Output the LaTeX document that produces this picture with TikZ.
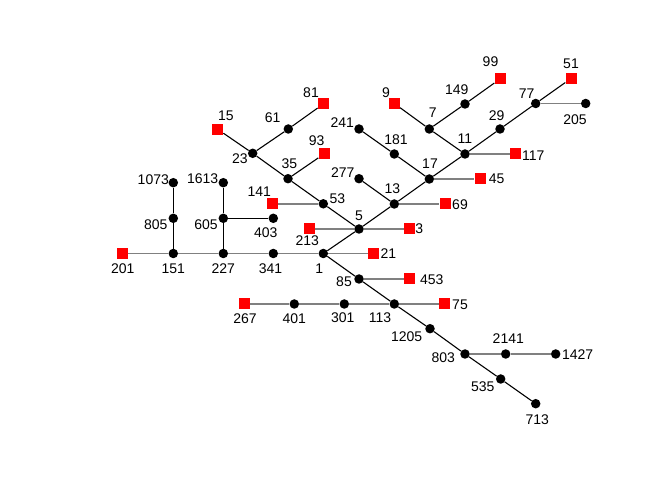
\documentclass[tikz,border=0pt]{standalone}
\usepackage{fontspec}
\setmainfont{Liberation Sans}
\begin{document}
\begin{tikzpicture}[x=1pt,y=-1pt,
 dot/.style={circle,fill=black,inner sep=0pt,minimum size=9.5pt},
 sq/.style={rectangle,fill=red,inner sep=0pt,minimum size=11pt},
 lab/.style={inner sep=0pt,font=\fontsize{14}{15}\selectfont},
 bl/.style={draw=black,line width=1.1pt},
 gr/.style={draw=black!50,line width=1.9pt}]
\useasboundingbox[fill=white] (0,0) rectangle (654,497);
% nodes
\node[sq]  (n201) at (122.7,253.5) {};
\node[dot] (n151) at (173.3,253.5) {};
\node[dot] (n227) at (223.3,253.5) {};
\node[dot] (n341) at (273.3,253.5) {};
\node[dot] (n1) at (323.3,253.5) {};
\node[dot] (n805) at (173.3,218.3) {};
\node[dot] (n1073) at (173.3,182.7) {};
\node[dot] (n605) at (223.3,218.3) {};
\node[dot] (n1613) at (223.3,182.7) {};
\node[dot] (n403) at (273.3,218.3) {};
\node[sq]  (n141) at (272.7,203.8) {};
\node[dot] (n53) at (323.3,203.8) {};
\node[sq]  (n213) at (309,229) {};
\node[sq]  (n267) at (244,304) {};
\node[dot] (n401) at (294.3,304) {};
\node[dot] (n301) at (344.3,304) {};
\node[dot] (n113) at (394.3,304) {};
\node[sq]  (n75) at (444.3,304) {};
\node[sq]  (n15) at (217.7,129.3) {};
\node[dot] (n23) at (252.7,153.3) {};
\node[dot] (n61) at (288.3,129) {};
\node[sq]  (n81) at (323.3,104) {};
\node[sq]  (n93) at (324,154) {};
\node[dot] (n35) at (288,178.7) {};
\node[dot] (n5) at (359,229) {};
\node[sq]  (n3) at (409.3,229) {};
\node[sq]  (n21) at (373.3,253.5) {};
\node[dot] (n13) at (394.3,204) {};
\node[sq]  (n69) at (445,204) {};
\node[dot] (n277) at (359,178.7) {};
\node[dot] (n17) at (429.3,179) {};
\node[sq]  (n45) at (480,179) {};
\node[dot] (n181) at (394.3,154) {};
\node[dot] (n241) at (359,129) {};
\node[dot] (n11) at (465,154) {};
\node[sq]  (n117) at (515.7,154) {};
\node[dot] (n7) at (429.3,129) {};
\node[sq]  (n9) at (394.3,103.5) {};
\node[dot] (n149) at (465,104) {};
\node[sq]  (n99) at (500,79) {};
\node[dot] (n29) at (500,129) {};
\node[dot] (n77) at (535.7,103.5) {};
\node[sq]  (n51) at (571,78.5) {};
\node[dot] (n205) at (585.7,103.5) {};
\node[dot] (n85) at (359,279) {};
\node[sq]  (n453) at (409.3,279) {};
\node[dot] (n1205) at (430,328.7) {};
\node[dot] (n803) at (465,354) {};
\node[dot] (n2141) at (505.7,354) {};
\node[dot] (n1427) at (555.7,354) {};
\node[dot] (n535) at (500.7,379) {};
\node[dot] (n713) at (535.7,403.7) {};
% gray edges
\draw[gr] (n201) -- (n151) -- (n227) -- (n341) -- (n1);
\draw[gr] (n1) -- (n21);
\draw[gr] (n141) -- (n53);
\draw[gr] (n213) -- (n5) -- (n3);
\draw[gr] (n13) -- (n69);
\draw[gr] (n17) -- (n45);
\draw[gr] (n11) -- (n117);
\draw[gr] (n77) -- (n205);
\draw[gr] (n85) -- (n453);
\draw[gr] (n267) -- (n401) -- (n301) -- (n113) -- (n75);
\draw[gr] (n803) -- (n2141) -- (n1427);
% black edges
\draw[bl] (n15) -- (n23) -- (n35) -- (n53) -- (n5) -- (n13) -- (n17) -- (n11) -- (n29) -- (n77) -- (n51);
\draw[bl] (n23) -- (n61) -- (n81);
\draw[bl] (n35) -- (n93);
\draw[bl] (n13) -- (n277);
\draw[bl] (n17) -- (n181) -- (n241);
\draw[bl] (n11) -- (n7) -- (n9);
\draw[bl] (n7) -- (n149) -- (n99);
\draw[bl] (n5) -- (n1) -- (n85) -- (n113) -- (n1205) -- (n803) -- (n535) -- (n713);
\draw[bl] (n151) -- (n805) -- (n1073);
\draw[bl] (n227) -- (n605) -- (n1613);
\draw[bl] (n605) -- (n403);
% labels
\node[lab] (l201) at (122.7,268.3) {201};
\node[lab] (l151) at (173.3,268.3) {151};
\node[lab] (l227) at (223.3,268.3) {227};
\node[lab] (l341) at (270.5,268.3) {341};
\node[lab] (l1) at (319.3,268.3) {1};
\node[lab] (l805) at (155.7,225) {805};
\node[lab] (l1073) at (153.3,180) {1073};
\node[lab] (l1613) at (202.7,179) {1613};
\node[lab] (l605) at (206,225) {605};
\node[lab] (l403) at (265.7,232.7) {403};
\node[lab] (l141) at (259.3,191.7) {141};
\node[lab] (l53) at (337.3,198.3) {53};
\node[lab] (l213) at (307.3,240.7) {213};
\node[lab] (l267) at (245,319) {267};
\node[lab] (l401) at (294.3,319) {401};
\node[lab] (l301) at (342.7,317.3) {301};
\node[lab] (l113) at (380,317.3) {113};
\node[lab] (l75) at (460,305) {75};
\node[lab] (l35) at (289.3,163.3) {35};
\node[lab] (l15) at (226,116) {15};
\node[lab] (l23) at (240,159) {23};
\node[lab] (l61) at (272.7,117.7) {61};
\node[lab] (l81) at (311,92.7) {81};
\node[lab] (l93) at (316.7,141) {93};
\node[lab] (l5) at (359,216) {5};
\node[lab] (l241) at (342.3,122.7) {241};
\node[lab] (l277) at (342.7,172.7) {277};
\node[lab] (l13) at (392.3,188.3) {13};
\node[lab] (l181) at (396,140) {181};
\node[lab] (l17) at (430,164) {17};
\node[lab] (l11) at (465,139) {11};
\node[lab] (l29) at (496.7,116) {29};
\node[lab] (l77) at (526.7,93.3) {77};
\node[lab] (l149) at (456.7,89.3) {149};
\node[lab] (l7) at (432.7,112.3) {7};
\node[lab] (l9) at (386,92.7) {9};
\node[lab] (l99) at (490.5,62) {99};
\node[lab] (l51) at (571,63.5) {51};
\node[lab] (l205) at (575,119.3) {205};
\node[lab] (l117) at (533.3,156) {117};
\node[lab] (l45) at (496.7,179) {45};
\node[lab] (l69) at (460,205) {69};
\node[lab] (l3) at (419.3,228.3) {3};
\node[lab] (l21) at (388.3,253.7) {21};
\node[lab] (l453) at (431.7,280) {453};
\node[lab] (l85) at (344,281.7) {85};
\node[lab] (l1205) at (406.7,336.7) {1205};
\node[lab] (l803) at (443.3,357.7) {803};
\node[lab] (l2141) at (508.3,339) {2141};
\node[lab] (l1427) at (577.7,354.3) {1427};
\node[lab] (l535) at (482.7,386.7) {535};
\node[lab] (l713) at (537.3,420) {713};
\end{tikzpicture}
\end{document}
